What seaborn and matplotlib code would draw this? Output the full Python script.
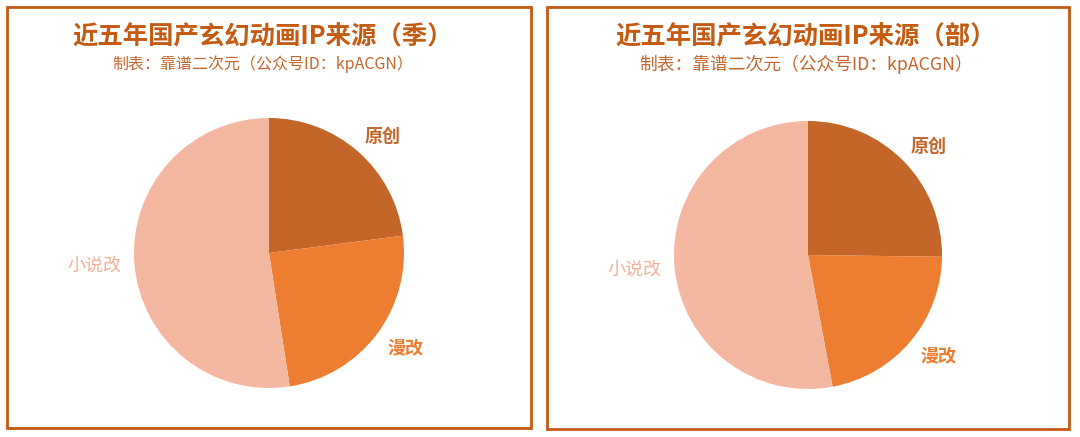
import matplotlib
matplotlib.use('Agg')
import matplotlib.pyplot as plt
import seaborn as sns
from matplotlib.patches import Rectangle

sns.set_theme(style='white')
plt.rcParams['font.family'] = ['Noto Sans CJK SC', 'DejaVu Sans']

categories = ['原创', '漫改', '小说改']
season_counts = [14, 15, 32]
work_counts = [30, 26, 63]
titles = ['近五年国产玄幻动画IP来源（季）', '近五年国产玄幻动画IP来源（部）']
subtitle = '制表：靠谱二次元（公众号ID：kpACGN）'

pie_colors = ['#C4662A', '#ED7D31', '#F4B8A1']
label_colors = ['#C4662A', '#ED7D31', '#F2B39A']
label_weights = ['bold', 'bold', 'normal']
# small nudges (data units) so labels sit like the original
label_nudge = [(-0.02, 0.04), (0.0, -0.045), (0.0, -0.01)]
dark = '#C55A11'

W, H = 1080, 437
fig = plt.figure(figsize=(W / 100, H / 100), dpi=100)


def px_box(x0, y0, x1, y1):
    # pixel box (top-left origin) -> figure fraction rect
    return [x0 / W, 1 - y1 / H, (x1 - x0) / W, (y1 - y0) / H]


def draw_panel(values, title, pie_box, frame, title_x, sub_size):
    x0, y0, x1, y1 = frame
    fig.add_artist(Rectangle((x0 / W, 1 - y1 / H), (x1 - x0) / W, (y1 - y0) / H,
                             transform=fig.transFigure, fill=False,
                             edgecolor=dark, linewidth=2.0))
    fig.text(title_x / W, 1 - 37 / H, title, ha='center', va='center',
             fontsize=18.3, fontweight='bold', color=dark)
    fig.text(title_x / W, 1 - 64 / H, subtitle, ha='center', va='center',
             fontsize=sub_size, fontweight='medium', color='#C3672E')

    ax = fig.add_axes(px_box(*pie_box))
    wedges, texts = ax.pie(values, labels=categories, colors=pie_colors,
                           startangle=90, counterclock=False,
                           labeldistance=1.1, radius=1,
                           wedgeprops=dict(linewidth=0),
                           textprops=dict(fontsize=13))
    for t, c, w, (dx, dy) in zip(texts, label_colors, label_weights, label_nudge):
        t.set_color(c)
        t.set_fontweight(w)
        x, y = t.get_position()
        t.set_position((x + dx, y + dy))
    ax.set_xlim(-1, 1)
    ax.set_ylim(-1, 1)
    ax.set_aspect('equal')
    ax.axis('off')


draw_panel(season_counts, titles[0], (134, 118, 404, 388), (7, 7, 531, 428), 263, 11.5)
draw_panel(work_counts, titles[1], (674, 121, 942, 389), (547, 7, 1069, 429), 806, 12.8)

fig.savefig('out.png', dpi=100, facecolor='white')
